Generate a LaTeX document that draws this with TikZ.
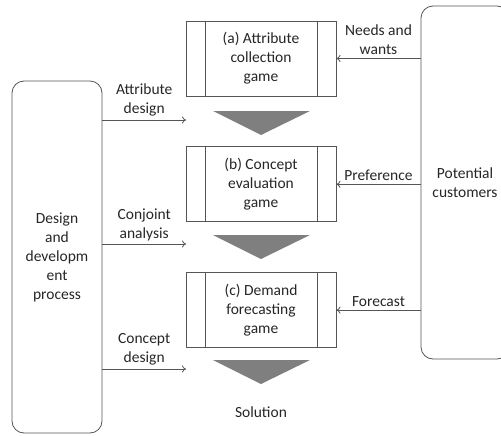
\documentclass[tikz,border=0pt]{standalone}
\usepackage{fontspec}
\setmainfont{Carlito}
\usepackage{xcolor}
\usepackage{tikz}
\usetikzlibrary{positioning,arrows.meta}
\definecolor{linegray}{HTML}{555555}
\definecolor{flowgray}{HTML}{7F7F7F}
\definecolor{textgray}{HTML}{262626}

\begin{document}
\begin{tikzpicture}[x=1pt,y=-1pt,
font=\fontsize{15.5}{19}\selectfont,text=textgray,
game/.style={rectangle,draw=linegray,thick,align=center,
minimum width=150pt,minimum height=75pt,inner sep=0pt,
path picture={\draw[linegray,thick]
  ([xshift=19pt]path picture bounding box.north west) --
  ([xshift=19pt]path picture bounding box.south west)
  ([xshift=-19pt]path picture bounding box.north east) --
  ([xshift=-19pt]path picture bounding box.south east);}},
party/.style={rectangle,rounded corners=12pt,draw=linegray,thick,
align=center,inner sep=0pt},
flow/.style={fill=flowgray},
link/.style={-{To[length=4pt,width=7pt]},draw=linegray,thick},
lab/.style={align=center,inner sep=3pt}]
    \useasboundingbox (0,0) rectangle (501,436);
    \node[game] (game a) at (261,58.5) {(a) Attribute\\collection\\game};
    \node[game] (game b) [below=50pt of game a] {(b) Concept\\evaluation\\game};
    \node[game] (game c) [below=50pt of game b] {(c) Demand\\forecasting\\game};
    \node[party,minimum width=90pt,minimum height=352pt] (design) at (57,257)
        {Design\\and\\developm\\ent\\process};
    \node[party,minimum width=88pt,minimum height=353pt] (customers) at (465,182.5)
        {Potential\\customers};
    \node (solution) at (261,412) {Solution};
    % flow between the games
    \foreach \y in {111,235,360}
        \fill[flow] (213,\y) -- (310,\y) -- (261,\y+24) -- cycle;
    % inputs from design
    \coordinate (in a) at (186,120);
    \coordinate (in b) at (186,244);
    \coordinate (in c) at (186,369);
    \draw[link] (design.east |- in a) -- node[lab,above] {Attribute\\design} (in a);
    \draw[link] (design.east |- in b) -- node[lab,above] {Conjoint\\analysis} (in b);
    \draw[link] (design.east |- in c) -- node[lab,above] {Concept\\design} (in c);
    % inputs from customers
    \draw[link] (customers.west |- game a) -- node[lab,above] {Needs and\\wants} (game a.east);
    \draw[link] (customers.west |- game b) -- node[lab,above] {Preference} (game b.east);
    \draw[link] (customers.west |- game c) -- node[lab,above] {Forecast} (game c.east);
\end{tikzpicture}
\end{document}
